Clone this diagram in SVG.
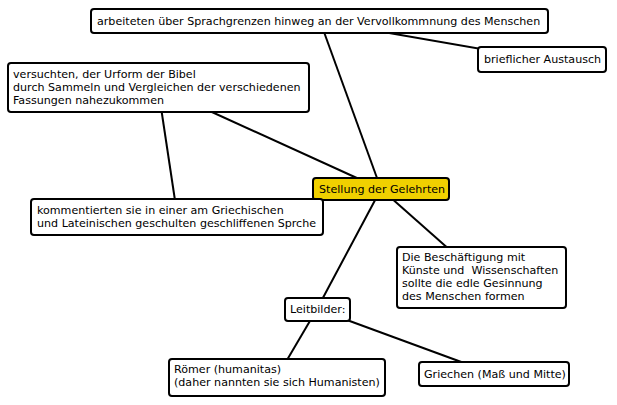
<svg xmlns="http://www.w3.org/2000/svg" width="617" height="405" viewBox="0 0 617 405">
<style>
.box{fill:#fff;stroke:#000;stroke-width:2}
.main{fill:#f0d000;stroke:#000;stroke-width:2}
text{font-family:"DejaVu Sans",sans-serif;font-size:11.1px;fill:#000}
.edge{stroke:#000;stroke-width:2;fill:none}
</style>
<rect width="617" height="405" fill="#fff"/>
<g id="connectors">
<line class="edge" x1="320" y1="21" x2="542" y2="59.5"/>
<line class="edge" x1="320" y1="21" x2="381" y2="189"/>
<line class="edge" x1="158" y1="87.5" x2="381" y2="189"/>
<line class="edge" x1="158" y1="87.5" x2="177.5" y2="217"/>
<line class="edge" x1="381" y1="189" x2="481" y2="277.5"/>
<line class="edge" x1="381" y1="189" x2="317" y2="309"/>
<line class="edge" x1="317" y1="309" x2="277" y2="377"/>
<line class="edge" x1="317" y1="309" x2="494" y2="374"/>
</g>
<g id="n-top">
<rect class="box" x="91" y="9" width="457" height="24" rx="3"/>
<text x="97" y="25">arbeiteten über Sprachgrenzen hinweg an der Vervollkommnung des Menschen</text>
</g>
<g id="n-brief">
<rect class="box" x="478" y="47" width="128" height="25" rx="3"/>
<text x="484" y="63">brieflicher Austausch</text>
</g>
<g id="n-versuchten">
<rect class="box" x="8" y="63" width="301" height="49" rx="3"/>
<text x="13" y="78">versuchten, der Urform der Bibel</text>
<text x="13" y="91">durch Sammeln und Vergleichen der verschiedenen</text>
<text x="13" y="104">Fassungen nahezukommen</text>
</g>
<g id="n-center">
<rect class="main" x="313" y="178" width="136" height="22" rx="3"/>
<text x="319" y="193">Stellung der Gelehrten</text>
</g>
<g id="n-kommentierten">
<rect class="box" x="31" y="199" width="292" height="36" rx="3"/>
<text x="37" y="214">kommentierten sie in einer am Griechischen</text>
<text x="37" y="227">und Lateinischen geschulten geschliffenen Sprche</text>
</g>
<g id="n-beschaeftigung">
<rect class="box" x="397" y="247" width="169" height="61" rx="3"/>
<text x="402" y="261">Die Beschäftigung mit</text>
<text x="402" y="274" xml:space="preserve">Künste und  Wissenschaften</text>
<text x="402" y="287">sollte die edle Gesinnung</text>
<text x="402" y="300">des Menschen formen</text>
</g>
<g id="n-leitbilder">
<rect class="box" x="285" y="298" width="65" height="23" rx="3"/>
<text x="290" y="313">Leitbilder:</text>
</g>
<g id="n-roemer">
<rect class="box" x="169" y="359" width="216" height="37" rx="3"/>
<text x="174" y="373">Römer (humanitas)</text>
<text x="174" y="386">(daher nannten sie sich Humanisten)</text>
</g>
<g id="n-griechen">
<rect class="box" x="419" y="362" width="150" height="24" rx="3"/>
<text x="424" y="378">Griechen (Maß und Mitte)</text>
</g>
</svg>
